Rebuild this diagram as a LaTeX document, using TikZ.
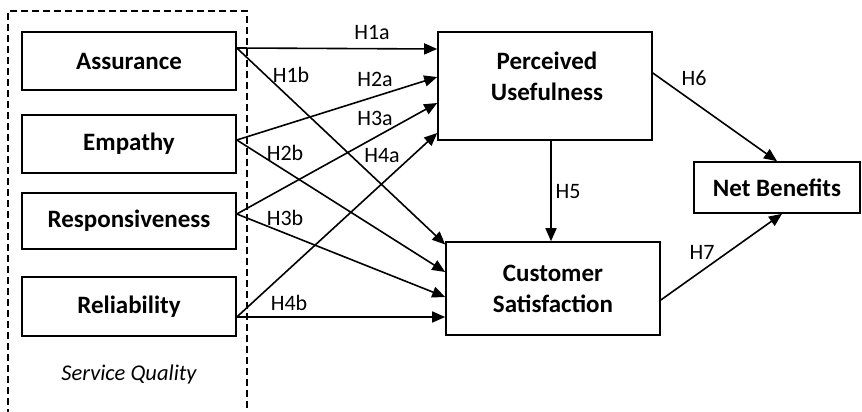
\documentclass[tikz,border=0pt]{standalone}
\usepackage{fontspec}
\setmainfont{Carlito}
\usetikzlibrary{arrows.meta}

\tikzset{
  factor/.style={draw, line width=1.6pt, fill=white, font=\fontsize{25}{31}\selectfont\bfseries, align=center, inner sep=2pt},
  hyp/.style={font=\fontsize{22}{26}\selectfont},
  path/.style={line width=1.6pt, -{Triangle[length=13pt,width=11pt]}}
}

\begin{document}
\begin{tikzpicture}[x=1pt,y=-1pt]
\useasboundingbox (0,0) rectangle (862,412);

% Service quality group
\draw[line width=1.6pt, dash pattern=on 7pt off 4pt] (8,416) -- (8,11) -- (247,11) -- (247,416);
\node[font=\fontsize{22.5}{26}\selectfont\itshape] (sq) at (129,374) {Service Quality};

\node[factor, minimum width=214pt, minimum height=58pt] (as) at (129,61) {Assurance};
\node[factor, minimum width=214pt, minimum height=58pt] (em) at (129,144) {Empathy};
\node[factor, minimum width=214pt, minimum height=56pt] (re) at (129,221) {Responsiveness};
\node[factor, minimum width=214pt, minimum height=59pt] (rl) at (129,306.5) {Reliability};

\node[factor, minimum width=214pt, minimum height=108pt] (pu) at (545,86) {};
\node[factor, draw=none, fill=none] (putext) at (547,76) {Perceived\\Usefulness};
\node[factor, minimum width=214pt, minimum height=93pt] (cs) at (553,288.5) {Customer\\Satisfaction};
\node[factor, minimum width=166pt, minimum height=51pt] (nb) at (777,187.5) {Net Benefits};

% paths to perceived usefulness
\draw[path] ([yshift=13pt]as.east) -- ([yshift=37pt]pu.west);
\draw[path] ([yshift=4pt]em.east) -- ([yshift=9pt]pu.west);
\draw[path] ([yshift=7pt]re.east) -- ([yshift=-17pt]pu.west);
\draw[path] ([yshift=-10.5pt]rl.east) -- ([yshift=-47pt]pu.west);

% paths to customer satisfaction
\draw[path] ([yshift=13pt]as.east) -- ([yshift=44pt]cs.west);
\draw[path] ([yshift=4pt]em.east) -- ([yshift=16.5pt]cs.west);
\draw[path] ([yshift=7pt]re.east) -- ([yshift=-8.5pt]cs.west);
\draw[path] ([yshift=-10.5pt]rl.east) -- ([yshift=-28.5pt]cs.west);

\draw[path] ([xshift=6pt]pu.south) -- ([xshift=-2pt]cs.north);
\draw[path] ([yshift=13pt]pu.east) -- (nb.north);
\draw[path] ([yshift=-11.5pt]cs.east) -- ([xshift=5pt]nb.south);

% hypothesis labels
\node[hyp] (h1a) at (372,33) {H1a};
\node[hyp] (h1b) at (291,75) {H1b};
\node[hyp] (h2a) at (375,79) {H2a};
\node[hyp] (h3a) at (375,118) {H3a};
\node[hyp] (h2b) at (285,153) {H2b};
\node[hyp] (h4a) at (382,156) {H4a};
\node[hyp] (h3b) at (285,218) {H3b};
\node[hyp] (h4b) at (289,303) {H4b};
\node[hyp] (h5) at (568,192) {H5};
\node[hyp] (h6) at (694,78) {H6};
\node[hyp] (h7) at (702,252) {H7};
\end{tikzpicture}
\end{document}
